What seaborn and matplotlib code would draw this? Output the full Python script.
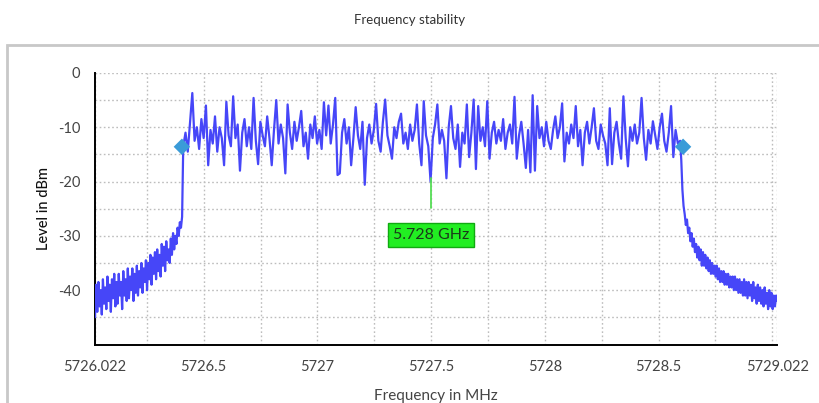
import numpy as np
import pandas as pd
import matplotlib.pyplot as plt
import seaborn as sns
from matplotlib.patches import Rectangle

# ------------------------------
# Data
# ------------------------------

# lower skirt, 5726.022 .. 5726.405 MHz
left_level = [
    -45, -39, -44, -38.5, -43, -40, -44.5, -38, -42.5, -39.5,
    -43.5, -37.5, -42, -39, -44, -38, -41.5, -37, -43, -38.5,
    -42.5, -37, -41, -38.5, -43.5, -36.5, -41, -38, -42, -36,
    -41.5, -37.5, -40, -36, -42, -37, -40.5, -35.5, -41, -36.5,
    -39.5, -35, -40.5, -36, -38.5, -34.5, -40, -35, -38, -33.5,
    -39, -34, -37, -33, -38, -32.5, -36.5, -33.5, -37.5, -31.5,
    -35.5, -32, -36.5, -31, -34.5, -32.5, -35, -30.5, -33.5, -29.5,
    -32.5, -30, -31.5, -28.5, -30, -27.5, -28.5, -26.5,
]

# occupied band, 5726.41 .. 5728.595 MHz
plateau_level = [
    -13.5, -11, -14.5, -9, -3.7, -12.5, -10, -14, -8.5, -12,
    -6, -17, -10.5, -13, -8, -14.5, -10, -12, -17, -5.3,
    -11.5, -13.5, -4.3, -12, -9.5, -18, -11, -8.5, -13.5, -10,
    -14, -4.6, -12.5, -16.8, -9, -11.5, -13.5, -8, -12, -17,
    -10.5, -5, -13, -9.5, -12, -18.5, -5.8, -11, -14, -9,
    -12.5, -10, -7, -13.5, -11, -15.8, -9.5, -12, -8, -13,
    -10.5, -14, -5.4, -11.5, -6, -13, -9.5, -4.6, -18.8, -18.5,
    -11, -8.5, -13, -10, -17, -12, -6.3, -11.5, -14, -9,
    -20.6, -12, -9.5, -13, -10.5, -5.7, -12.5, -14.5, -9, -4.9,
    -11.5, -13.5, -15.8, -10, -12, -9, -7.5, -13, -11, -14,
    -9.5, -12.5, -10.5, -5.8, -13, -17, -5.2, -11.5, -13.5, -20,
    -12, -9.5, -5.8, -13, -10.5, -12.5, -19.4, -10, -6.1, -12,
    -14, -9.5, -17.3, -11, -13, -5.8, -15.5, -11, -4.9, -17.7,
    -6.1, -12.5, -10, -13.5, -5.2, -15.8, -11, -9, -13, -10.5,
    -12.5, -8.5, -14, -11, -9.5, -13, -4.4, -15.8, -11.5, -9,
    -13, -17.5, -10.5, -18.3, -4.1, -18, -6.1, -12, -10, -13.5,
    -9, -12.5, -14, -10.5, -8, -12, -10, -5.6, -16.3, -11,
    -13, -9.5, -12, -6.1, -13.5, -10.5, -17, -11, -9, -13,
    -10, -6.5, -12.5, -14, -9.5, -11.5, -13, -17, -6.5, -16.8,
    -11, -9, -13, -15.8, -4.3, -12, -17.2, -10, -12.5, -9.5,
    -13, -11, -4.6, -12, -16, -10.5, -13, -8.9, -11.5, -14,
    -10, -7.5, -12.5, -14.5, -11, -6.1, -15.5, -10.5, -13, -12.5,
]

# upper skirt, 5728.6 .. 5729.022 MHz
right_level = [
    -16, -21.5, -24.5, -26, -28, -27, -29.5, -28.5, -31, -29.5,
    -32, -30.5, -33, -31.5, -34, -32, -34.5, -32.5, -35.5, -33,
    -35.5, -33.5, -36, -34, -36.5, -34.5, -37, -35, -37, -35.5,
    -37.5, -35.5, -38, -36, -38.5, -36.5, -38.5, -36.5, -39, -37,
    -39, -37, -39.5, -37.5, -39.5, -37.5, -40, -37.5, -40, -38,
    -40.5, -38, -40.5, -38.5, -41, -38, -41, -38.5, -41.5, -38.5,
    -41, -39, -42, -38.5, -41.5, -39.5, -42.5, -39, -42, -39.5,
    -42.5, -40, -43, -39.5, -42.5, -40.5, -43.5, -40, -43, -40.5,
    -43.5, -41, -43, -41, -42,
]

# sweep points for each segment
left_freq = np.linspace(5726.022, 5726.405, len(left_level))
plateau_freq = np.linspace(5726.41, 5728.595, len(plateau_level))
right_freq = np.linspace(5728.6, 5729.022, len(right_level))

# band-edge markers and the centre marker
edge_freq = [5726.404, 5728.608]
edge_level = [-13.6, -13.6]
marker_freq = 5727.5
marker_span = [-19.4, -24.8]
marker_label = "5.728 GHz"

x_ticks = [5726.022, 5726.25, 5726.5, 5726.75, 5727, 5727.25, 5727.5,
           5727.75, 5728, 5728.25, 5728.5, 5728.75, 5729, 5729.022]
x_labels = ["5726.022", "", "5726.5", "", "5727", "", "5727.5",
            "", "5728", "", "5728.5", "", "", "5729.022"]
y_ticks = [0, -5, -10, -15, -20, -25, -30, -35, -40, -45]
y_labels = ["0", "", "-10", "", "-20", "", "-30", "", "-40", ""]

df = pd.DataFrame({
    "freq": np.concatenate([left_freq, plateau_freq, right_freq]),
    "level": left_level + plateau_level + right_level,
})

# ------------------------------
# Plot
# ------------------------------
sns.set_style("white")
plt.rcParams["font.family"] = ["Lato", "DejaVu Sans"]

fig = plt.figure(figsize=(8.19, 4.03), dpi=100)
ax = fig.add_axes([0.116, 0.144, 0.833, 0.675])

# outer frame
fig.patches.append(Rectangle((7 / 819, -0.05), 1.0, 1 - 45 / 403 + 0.05,
                             transform=fig.transFigure, fill=False,
                             edgecolor="#c8c8c8", linewidth=2))

sns.lineplot(data=df, x="freq", y="level", ax=ax, color="#4646f8",
             linewidth=1.6, estimator=None, sort=False, zorder=3)

ax.plot([marker_freq, marker_freq], marker_span, color="#55dd55",
        linewidth=1.3, zorder=4)
sns.scatterplot(x=edge_freq, y=edge_level, ax=ax, marker="D", s=70,
                color="#3a9bd8", edgecolor="none", zorder=5)

ax.text(marker_freq, -29.9, marker_label, ha="center", va="center",
        fontsize=11.5, color="#1a3a1a",
        bbox=dict(boxstyle="square,pad=0.3", facecolor="#22ee22",
                  edgecolor="#11aa11", linewidth=1))

ax.set_xlim(5726.022, 5729.022)
ax.set_ylim(-50.1, 0)
ax.set_xticks(x_ticks)
ax.set_xticklabels(x_labels)
ax.set_yticks(y_ticks)
ax.set_yticklabels(y_labels)

ax.grid(True, linestyle=(0, (1.2, 1.8)), color="#bdbdbd", linewidth=1)
ax.tick_params(direction="inout", length=11, width=1.4, colors="black",
               labelcolor="#444444", labelsize=10.5, pad=5)

for side in ["top", "right"]:
    ax.spines[side].set_visible(False)
for side in ["left", "bottom"]:
    ax.spines[side].set_color("black")
    ax.spines[side].set_linewidth(1.4)

ax.set_xlabel("Frequency in MHz", fontsize=11, color="#444444", labelpad=11)
ax.set_ylabel("Level in dBm", fontsize=10.5, color="#111111",
              fontweight="medium", labelpad=5)

fig.text(0.5, 0.95, "Frequency stability", ha="center", va="center",
         fontsize=9.5, color="#333333")

fig.savefig("out.png", dpi=100)
